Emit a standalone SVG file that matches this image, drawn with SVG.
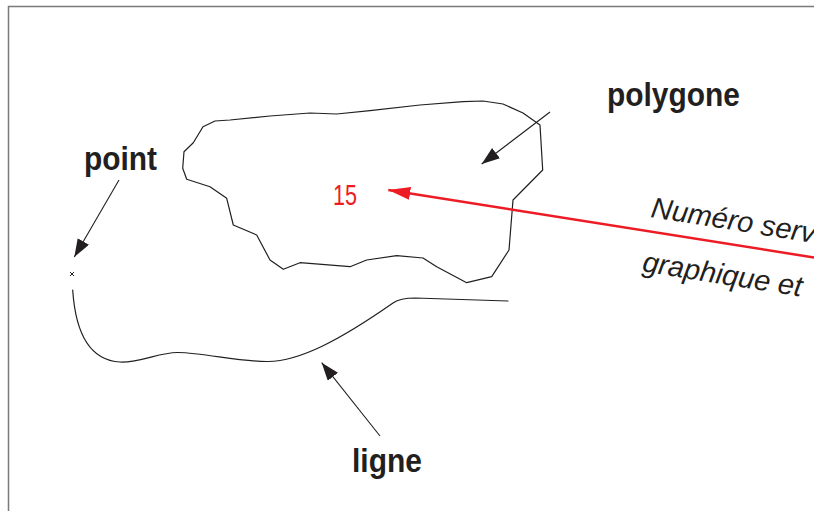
<svg xmlns="http://www.w3.org/2000/svg" width="814" height="511" viewBox="0 0 814 511">
  <style>
    .label { font-family: "Liberation Sans", Arial, sans-serif; font-weight: bold; font-size: 34px; fill: #231f20; }
    .note { font-family: "Liberation Sans", Arial, sans-serif; font-style: italic; font-size: 29px; fill: #231f20; }
    .num { font-family: "Liberation Sans", Arial, sans-serif; font-size: 30px; fill: #ed1c24; }
    .shape { fill: none; stroke: #231f20; stroke-width: 1.2; stroke-linejoin: round; stroke-linecap: round; }
    .lead { fill: none; stroke: #231f20; stroke-width: 1.1; }
    .lead-red { fill: none; stroke: #ed1c24; stroke-width: 2.5; }
  </style>
  <defs>
    <marker id="ah" markerUnits="userSpaceOnUse" markerWidth="20" markerHeight="14" refX="18" refY="6.5" orient="auto">
      <path d="M0,0 L18,6.5 L0,13 Z" fill="#231f20"/>
    </marker>
    <marker id="ah-red" markerUnits="userSpaceOnUse" markerWidth="24" markerHeight="14" refX="22" refY="6.5" orient="auto">
      <path d="M0,0 L22,6.5 L0,13 Z" fill="#ed1c24"/>
    </marker>
  </defs>

  <rect width="814" height="511" fill="#ffffff"/>
  <!-- frame -->
  <path d="M8.5,511 V6.5 H814" fill="none" stroke="#7a7a7a" stroke-width="1.5"/>

  <g id="polygone">
    <polygon class="shape" points="203,126.7 215,121 230,120 270,116 310,113 336.7,114 370,110.7 420,105 463,101.7 483,101 503,104 523,113 540,125 542.7,170 513,200 509,250 491.7,276.7 466.7,282.7 436.7,266.7 423,258 396.7,255.7 366.7,260 350,266.7 300,262.7 283.3,269.3 270,260 256.7,235 233.3,225 226.7,198.3 210,186.7 186.7,179.3 182.7,168.3 184,151.7 193.3,142.7"/>
    <text class="label" x="607" y="106" textLength="133" lengthAdjust="spacingAndGlyphs">polygone</text>
  </g>

  <g id="point">
    <path d="M70,272 L74,276 M74,272 L70,276" stroke="#231f20" stroke-width="1"/>
    <text class="label" x="84" y="170" textLength="73" lengthAdjust="spacingAndGlyphs">point</text>
  </g>

  <g id="ligne">
    <path class="shape" d="M72.7,290 C75,325 85,360 120,362 C140,363 160,352 178,352.5 C205,353 240,362 268,361.5 C300,361 340,340 393,303 C398,299.5 405,298 415,298 L508,301"/>
    <text class="label" x="352" y="472" textLength="70" lengthAdjust="spacingAndGlyphs">ligne</text>
  </g>

  <g id="numero">
    <text class="num" x="333" y="205" textLength="24" lengthAdjust="spacingAndGlyphs">15</text>
    <g transform="translate(650,217) rotate(9)">
      <text class="note" x="0" y="0">Numéro serv</text>
      <text class="note" x="0" y="55">graphique et</text>
    </g>
  </g>

  <g id="connectors">
    <line class="lead" x1="550" y1="112" x2="481.7" y2="164" marker-end="url(#ah)"/>
    <line class="lead" x1="119" y1="180" x2="74.3" y2="257" marker-end="url(#ah)"/>
    <line class="lead" x1="380" y1="436" x2="321.7" y2="362.7" marker-end="url(#ah)"/>
    <line class="lead-red" x1="814" y1="257.5" x2="388.3" y2="190" marker-end="url(#ah-red)"/>
  </g>
</svg>
